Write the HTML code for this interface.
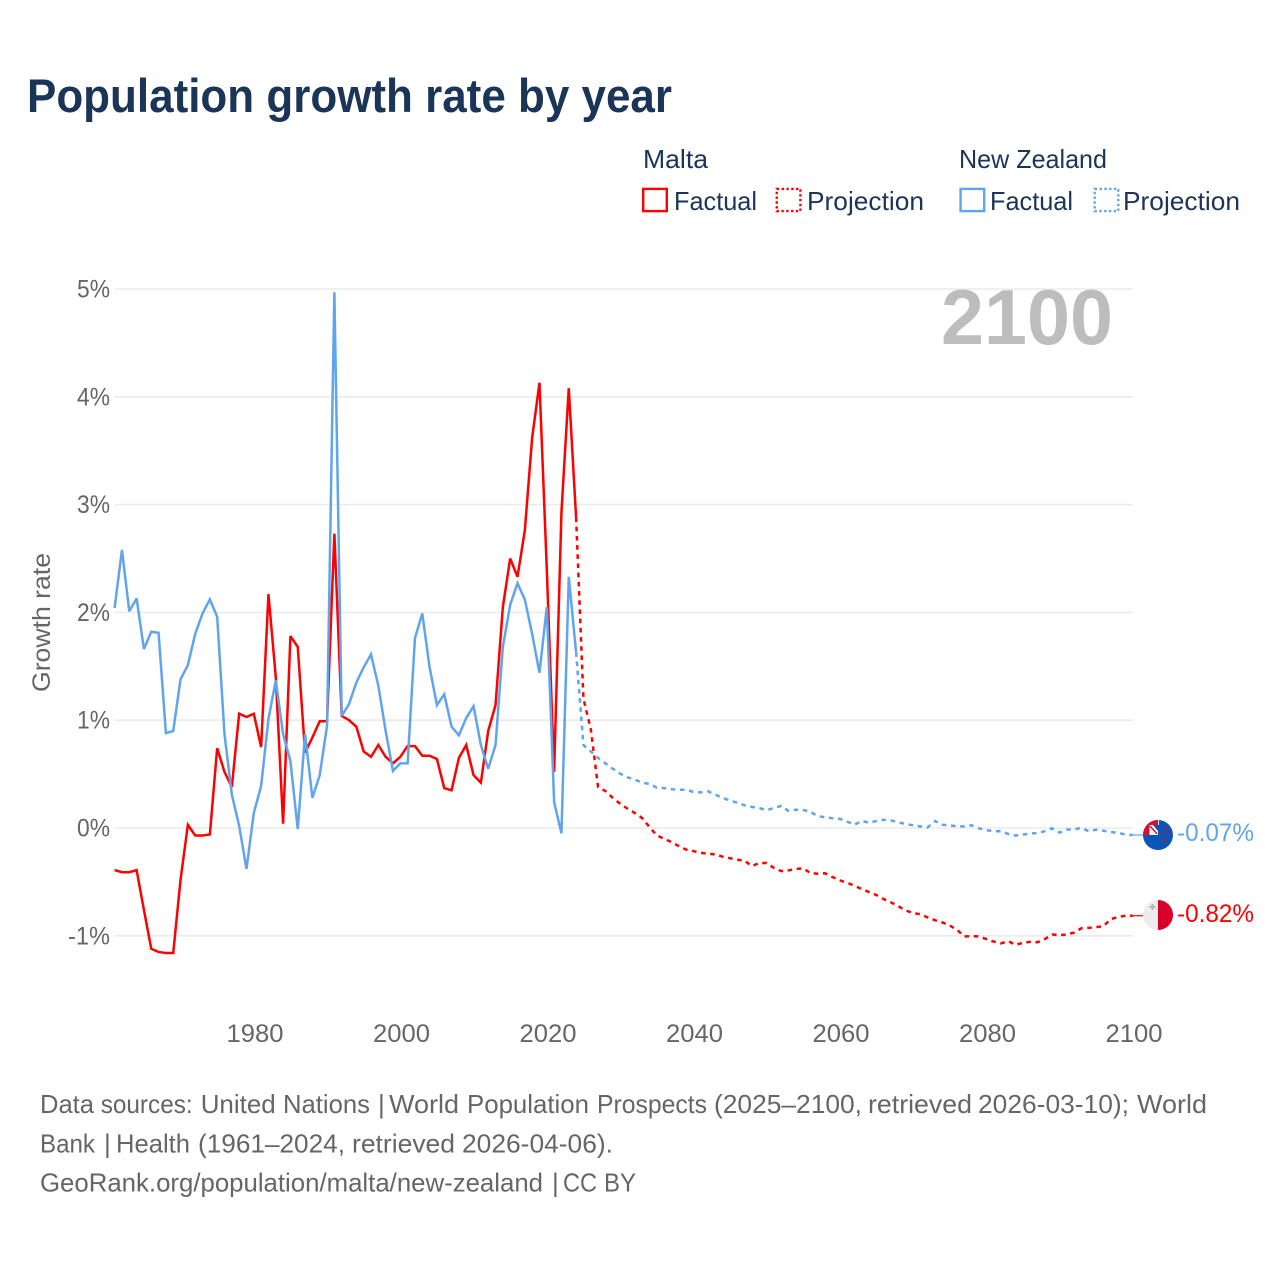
<!DOCTYPE html>
<html lang="en">
<head>
<meta charset="utf-8">
<title>Population growth rate by year</title>
<style>
  html, body { margin: 0; padding: 0; background: #fff; }
  svg { display: block; font-family: "Liberation Sans", sans-serif; }
</style>
</head>
<body>
<svg id="chart" xmlns="http://www.w3.org/2000/svg" width="1280" height="1280" viewBox="0 0 1280 1280">
  <defs>
    <clipPath id="nz-flag-clip"><circle cx="1158" cy="835" r="15"/></clipPath>
  </defs>
  <rect x="0" y="0" width="1280" height="1280" fill="#ffffff"/>
  <text x="27" y="112" font-size="47" font-weight="700" fill="#1a3557" textLength="645" lengthAdjust="spacingAndGlyphs">Population growth rate by year</text>

  <g font-size="26" fill="#1a3557">
    <text x="643" y="168" textLength="65" lengthAdjust="spacingAndGlyphs">Malta</text>
    <rect x="643.2" y="188.9" width="23.6" height="22.2" fill="none" stroke="#ff0000" stroke-width="2.4"/>
    <text x="674" y="210" textLength="83" lengthAdjust="spacingAndGlyphs">Factual</text>
    <rect x="776.8" y="188.9" width="23.6" height="22.2" fill="none" stroke="#ff0000" stroke-width="2.4" stroke-dasharray="2.4,2.4"/>
    <text x="807" y="210" textLength="117" lengthAdjust="spacingAndGlyphs">Projection</text>
    <text x="959" y="168" textLength="148" lengthAdjust="spacingAndGlyphs">New Zealand</text>
    <rect x="960.6" y="188.9" width="23.6" height="22.2" fill="none" stroke="#60a5ec" stroke-width="2.4"/>
    <text x="990" y="210" textLength="83" lengthAdjust="spacingAndGlyphs">Factual</text>
    <rect x="1094.7" y="188.9" width="23.6" height="22.2" fill="none" stroke="#60a5ec" stroke-width="2.4" stroke-dasharray="2.4,2.4"/>
    <text x="1123" y="210" textLength="117" lengthAdjust="spacingAndGlyphs">Projection</text>
  </g>

  <g id="grid"></g>
  <text x="941" y="344" font-size="78" font-weight="700" fill="#bdbdbd" textLength="172" lengthAdjust="spacingAndGlyphs">2100</text>
  <g id="yticks" font-size="25" fill="#666666"></g>
  <g id="xticks" font-size="25" fill="#666666"></g>
  <text transform="translate(50,622.5) rotate(-90)" text-anchor="middle" font-size="25" fill="#666666" textLength="139" lengthAdjust="spacingAndGlyphs">Growth rate</text>
  <g id="series"></g>

  <g>
    <circle cx="1158" cy="835" r="15" fill="#0a55b5"/>
    <g clip-path="url(#nz-flag-clip)">
      <rect x="1143" y="820" width="15" height="15" fill="#d8102e"/>
      <rect x="1149.500" y="825" width="8.500" height="10" fill="#ffffff"/>
      <path d="M1153 825 H1158 V831 Z" fill="#1a4fa0"/>
      <path d="M1150 826 L1157 834" stroke="#d8102e" stroke-width="1.4"/>
      <rect x="1158" y="820" width="1" height="5" fill="#cfdff2"/>
    </g>
    <circle cx="1165" cy="828" r="1.3" fill="#c8102e"/>
    <circle cx="1168.500" cy="832" r="1.1" fill="#c8102e"/>
    <circle cx="1162" cy="833" r="1.1" fill="#c8102e"/>
    <circle cx="1165" cy="840" r="1.500" fill="#c8102e"/>
  </g>
  <g>
    <path d="M1158 900 A15 15 0 0 0 1158 930 Z" fill="#ececec"/>
    <path d="M1158 900 A15 15 0 0 1 1158 930 Z" fill="#d8002a"/>
    <path d="M1152.500 904 V910 M1149.500 907 H1155.500" stroke="#b5b5b5" stroke-width="2"/>
  </g>
  <text x="1177" y="841" font-size="25" fill="#60a5ec" textLength="77" lengthAdjust="spacingAndGlyphs">-0.07%</text>
  <text x="1177" y="922" font-size="25" fill="#ff0000" textLength="77" lengthAdjust="spacingAndGlyphs">-0.82%</text>

  <g font-size="26" fill="#666666" lengthAdjust="spacingAndGlyphs">
    <text y="1113"><tspan x="40" textLength="54" lengthAdjust="spacingAndGlyphs">Data</tspan> <tspan x="100.7" textLength="92" lengthAdjust="spacingAndGlyphs">sources:</tspan> <tspan x="200.7" textLength="75" lengthAdjust="spacingAndGlyphs">United</tspan> <tspan x="283" textLength="87" lengthAdjust="spacingAndGlyphs">Nations</tspan> <tspan x="378">|</tspan> <tspan x="389" textLength="70" lengthAdjust="spacingAndGlyphs">World</tspan> <tspan x="467" textLength="122" lengthAdjust="spacingAndGlyphs">Population</tspan> <tspan x="597" textLength="110" lengthAdjust="spacingAndGlyphs">Prospects</tspan> <tspan x="714" textLength="148" lengthAdjust="spacingAndGlyphs">(2025–2100,</tspan> <tspan x="868" textLength="104" lengthAdjust="spacingAndGlyphs">retrieved</tspan> <tspan x="978" textLength="151" lengthAdjust="spacingAndGlyphs">2026-03-10);</tspan> <tspan x="1137" textLength="70" lengthAdjust="spacingAndGlyphs">World</tspan></text>
    <text y="1152.5"><tspan x="40" textLength="55" lengthAdjust="spacingAndGlyphs">Bank</tspan> <tspan x="104">|</tspan> <tspan x="116" textLength="74" lengthAdjust="spacingAndGlyphs">Health</tspan> <tspan x="198" textLength="147" lengthAdjust="spacingAndGlyphs">(1961–2024,</tspan> <tspan x="352" textLength="103" lengthAdjust="spacingAndGlyphs">retrieved</tspan> <tspan x="462" textLength="151" lengthAdjust="spacingAndGlyphs">2026-04-06).</tspan></text>
    <text y="1191.5"><tspan x="40" textLength="503" lengthAdjust="spacingAndGlyphs">GeoRank.org/population/malta/new-zealand</tspan> <tspan x="552">|</tspan> <tspan x="563" textLength="34" lengthAdjust="spacingAndGlyphs">CC</tspan> <tspan x="604" textLength="32" lengthAdjust="spacingAndGlyphs">BY</tspan></text>
  </g>
</svg>
<script>
const yTickValues = [5, 4, 3, 2, 1, 0, -1];
const yTickLabels = ["5%", "4%", "3%", "2%", "1%", "0%", "-1%"];
const xTickYears = [1980, 2000, 2020, 2040, 2060, 2080, 2100];

const factualStartYear = 1961;
const projectionStartYear = 2024;

const maltaFactual = [-0.39,-0.41,-0.41,-0.39,-0.76,-1.12,-1.15,-1.16,-1.16,-0.48,0.03,-0.07,-0.07,-0.06,0.74,0.52,0.38,1.06,1.03,1.06,0.75,2.17,1.40,0.04,1.78,1.68,0.70,0.84,0.99,0.99,2.73,1.04,1.00,0.94,0.71,0.66,0.77,0.66,0.60,0.66,0.76,0.76,0.67,0.67,0.64,0.37,0.35,0.65,0.77,0.49,0.42,0.90,1.14,2.05,2.50,2.33,2.76,3.62,4.13,2.40,0.52,2.93,4.08,2.88];
const maltaProjection = [2.88,1.20,0.92,0.38,0.343,0.28,0.226,0.18,0.14,0.093,0.01,-0.068,-0.10,-0.13,-0.167,-0.20,-0.214,-0.23,-0.238,-0.245,-0.266,-0.28,-0.294,-0.303,-0.353,-0.325,-0.325,-0.37,-0.40,-0.393,-0.38,-0.375,-0.418,-0.424,-0.42,-0.455,-0.486,-0.508,-0.536,-0.567,-0.594,-0.622,-0.66,-0.69,-0.727,-0.765,-0.79,-0.80,-0.83,-0.855,-0.876,-0.904,-0.944,-1.006,-1.003,-1.006,-1.03,-1.053,-1.07,-1.05,-1.084,-1.065,-1.056,-1.06,-1.03,-0.988,-0.994,-0.988,-0.97,-0.93,-0.926,-0.92,-0.91,-0.845,-0.826,-0.814,-0.814];

const nzFactual = [2.04,2.58,2.01,2.13,1.66,1.82,1.81,0.88,0.90,1.38,1.51,1.80,1.99,2.12,1.96,0.87,0.31,0.02,-0.38,0.14,0.39,1.01,1.37,0.87,0.62,-0.01,0.87,0.28,0.49,0.95,4.97,1.04,1.15,1.35,1.49,1.61,1.32,0.90,0.53,0.60,0.60,1.76,1.99,1.49,1.14,1.24,0.94,0.86,1.02,1.13,0.77,0.55,0.77,1.68,2.07,2.27,2.12,1.80,1.44,2.05,0.24,-0.05,2.33,1.63];
const nzProjection = [1.63,0.77,0.71,0.65,0.60,0.55,0.505,0.47,0.45,0.42,0.41,0.375,0.37,0.36,0.355,0.355,0.335,0.33,0.34,0.31,0.28,0.255,0.235,0.21,0.195,0.185,0.165,0.186,0.205,0.158,0.17,0.167,0.15,0.11,0.10,0.09,0.085,0.06,0.03,0.065,0.05,0.065,0.077,0.07,0.053,0.037,0.025,0.015,0.006,0.065,0.03,0.025,0.015,0.015,0.025,-0.003,-0.02,-0.03,-0.03,-0.055,-0.07,-0.06,-0.053,-0.046,-0.03,-0.003,-0.043,-0.015,-0.012,0,-0.03,-0.015,-0.025,-0.037,-0.046,-0.06,-0.065];

const plotLeft = 114.5;
const plotRight = 1133;
const SVG_NS = "http://www.w3.org/2000/svg";

function xScale(year) {
  return 1132.8 + (year - 2100) * 7.325;
}
function yScale(value) {
  return 828 - value * 107.8;
}
function seriesPoints(startYear, values) {
  return values.map(function (v, i) {
    return xScale(startYear + i).toFixed(2) + "," + yScale(v).toFixed(2);
  }).join(" ");
}

const gridGroup = document.getElementById("grid");
const yTickGroup = document.getElementById("yticks");
const xTickGroup = document.getElementById("xticks");
const seriesGroup = document.getElementById("series");

yTickValues.forEach(function (value, i) {
  const line = document.createElementNS(SVG_NS, "line");
  
  
  line.setAttribute("x1", plotLeft);
  line.setAttribute("x2", plotRight);
  line.setAttribute("y1", yScale(value));
  line.setAttribute("y2", yScale(value));
  line.setAttribute("stroke", "#ebebeb");
  line.setAttribute("stroke-width", "1.6");
  gridGroup.appendChild(line);

  const label = document.createElementNS(SVG_NS, "text");
  
  
  label.setAttribute("x", 110);
  label.setAttribute("y", yScale(value) + 8.5);
  label.setAttribute("text-anchor", "end");
  label.setAttribute("textLength", yTickLabels[i].length === 2 ? 33 : 42);
  label.setAttribute("lengthAdjust", "spacingAndGlyphs");
  label.textContent = yTickLabels[i];
  yTickGroup.appendChild(label);
});

xTickYears.forEach(function (year) {
  const label = document.createElementNS(SVG_NS, "text");
  
  
  label.setAttribute("x", xScale(year) + 1.2);
  label.setAttribute("y", 1042);
  label.setAttribute("text-anchor", "middle");
  label.setAttribute("textLength", "57");
  label.setAttribute("lengthAdjust", "spacingAndGlyphs");
  label.textContent = String(year);
  xTickGroup.appendChild(label);
});

function addLine(name, startYear, values, color, dashed) {
  const line = document.createElementNS(SVG_NS, "polyline");
  
  
  line.setAttribute("points", seriesPoints(startYear, values));
  line.setAttribute("fill", "none");
  line.setAttribute("stroke", color);
  line.setAttribute("stroke-width", "2.5");
  line.setAttribute("stroke-linejoin", "miter");
  line.setAttribute("stroke-miterlimit", "3");
  if (dashed) {
    line.setAttribute("stroke-dasharray", "4.6,4.6");
  }
  seriesGroup.appendChild(line);
}

function addLeader(name, value, color) {
  const leader = document.createElementNS(SVG_NS, "line");
  
  
  leader.setAttribute("x1", xScale(2100));
  leader.setAttribute("x2", 1144);
  leader.setAttribute("y1", yScale(value));
  leader.setAttribute("y2", yScale(value));
  leader.setAttribute("stroke", color);
  leader.setAttribute("stroke-width", "1.2");
  seriesGroup.appendChild(leader);
}

addLine("malta-factual-line", factualStartYear, maltaFactual, "#ff0000", false);
addLine("malta-projection-line", projectionStartYear, maltaProjection, "#ff0000", true);
addLine("new-zealand-factual-line", factualStartYear, nzFactual, "#60a5ec", false);
addLine("new-zealand-projection-line", projectionStartYear, nzProjection, "#60a5ec", true);
addLeader("malta-leader-line", maltaProjection[maltaProjection.length - 1], "#ff0000");
addLeader("new-zealand-leader-line", nzProjection[nzProjection.length - 1], "#60a5ec");
</script>
</body>
</html>
